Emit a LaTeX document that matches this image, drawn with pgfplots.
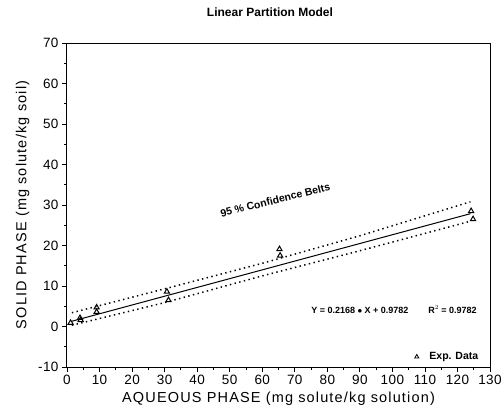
\documentclass[border=0pt]{standalone}
\usepackage{pgfplots}
\pgfplotsset{compat=1.18}
\usepackage{fontspec}
\setmainfont{Liberation Sans}
\begin{document}
\begin{tikzpicture}
\begin{axis}[
  scale only axis, width=423pt, height=324pt,
  xmin=0, xmax=130, ymin=-10, ymax=70,
  xtick distance=10, ytick distance=10,
  minor x tick num=1, minor y tick num=1,
  tick align=outside, xtick pos=bottom, ytick pos=left,
  major tick length=5pt, minor tick length=3pt,
  axis line style={line width=1pt}, tick style={line width=0.8pt, black},
  ticklabel style={font=\fontsize{13.5}{13.5}\selectfont\addfontfeature{LetterSpace=3}},
  /pgf/number format/assume math mode=true,
  xlabel={AQUEOUS PHASE (mg solute/kg solution)},
  ylabel={SOLID PHASE (mg solute/kg soil)},
  label style={font=\fontsize{14.5}{14.5}\selectfont\addfontfeature{LetterSpace=8}},
  xlabel style={at={(rel axis cs:0.5,0)}, anchor=north, yshift=-21pt},
  ylabel style={at={(rel axis cs:0,0.5)}, anchor=south, yshift=34pt},
  clip=false,
]
\addplot[black, line width=1pt] coordinates {(1.5,1.30) (124,27.86)};
\addplot[black, line width=1.5pt, dash pattern=on 1.4pt off 3.4pt] coordinates {(1.5,3.4) (30,9.3) (60,15.6) (90,22.4) (124,30.8)};
\addplot[black, line width=1.5pt, dash pattern=on 1.4pt off 3.4pt] coordinates {(1.5,0.3) (30,5.9) (60,12.5) (90,18.7) (124,26.0)};
\addplot[only marks, mark=triangle, mark size=3pt, black, mark options={line width=1pt}] coordinates {
(1.1,0.9) (4.0,2.1) (4.2,1.6) (9.1,4.7) (9.1,3.6) (30.7,8.6) (31.2,6.5) (65.3,19.1) (65.5,17.5) (124.2,28.5) (124.8,26.5)};
\node[rotate=14, font=\fontsize{10.5}{10.5}\selectfont\bfseries] at (axis cs:64,31.2) {95 \% Confidence Belts};
\node[font=\fontsize{9}{9}\selectfont\bfseries] at (axis cs:100.5,4.1) {Y = 0.2168 $\bullet$ X + 0.9782\hspace{2.2em}R$^2$ = 0.9782};
\addplot[only marks, mark=triangle, mark size=2.4pt, black, mark options={line width=0.8pt}] coordinates {(107.5,-7.5)};
\node[font=\fontsize{10.5}{10.5}\selectfont\bfseries, anchor=west] at (axis cs:110.3,-7.5) {Exp. Data};
\end{axis}
\node[font=\fontsize{12}{12}\selectfont\bfseries] at (203pt,355pt) {Linear Partition Model};
\pgfresetboundingbox
\path[use as bounding box] (-67pt,-49pt) rectangle (437pt,367pt);
\end{tikzpicture}
\end{document}
